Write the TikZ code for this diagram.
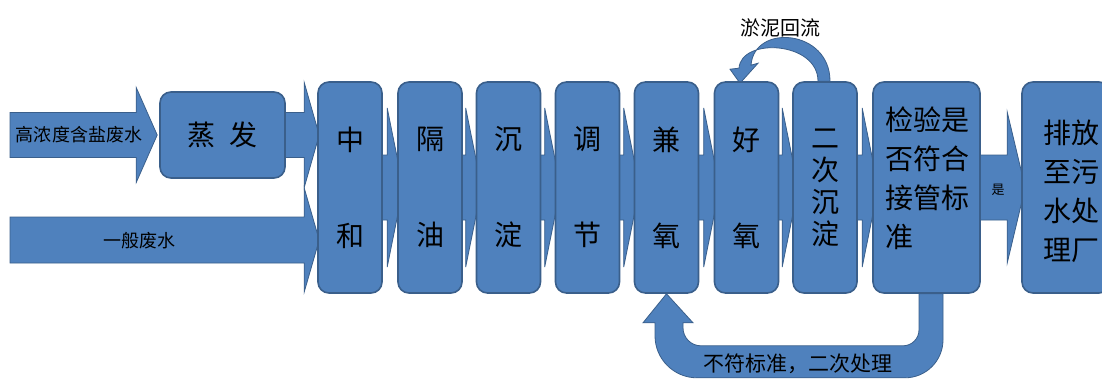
\documentclass[tikz,border=0pt]{standalone}
\usepackage{fontspec}
\newfontfamily\cjk{Noto Sans CJK SC}
\usetikzlibrary{calc,backgrounds}
\definecolor{blu}{HTML}{4F81BD}
\definecolor{bdr}{HTML}{3A5F8B}
\newcommand\boxarrow[2]{%
  \filldraw[blk] ($(#1.east)+(-4,-32.5)$) -- ($(#2.west)+(-10,-32.5)$) -- ($(#2.west)+(-10,-79.5)$) -- ($(#2.west)+(6,0)$) -- ($(#2.west)+(-10,79.5)$) -- ($(#2.west)+(-10,32.5)$) -- ($(#1.east)+(-4,32.5)$) -- cycle;}
\begin{document}
\begin{tikzpicture}[x=1pt,y=-1pt,
  proc/.style={draw=bdr, fill=blu, line width=1.6pt, rounded corners=11pt, minimum width=64pt, minimum height=211pt, inner sep=0pt, align=center, font=\cjk\fontsize{28}{96}\selectfont},
  txt/.style={inner sep=0pt, align=left, font=\cjk\fontsize{28}{39}\selectfont},
  blk/.style={fill=blu, draw=bdr, line width=0.8pt},
  lbl/.style={inner sep=0pt, font=\cjk\fontsize{18}{20}\selectfont}]
\useasboundingbox (0,0) rectangle (1102,378);
% boxes
\node[proc, minimum width=125pt, minimum height=86pt] (zf) at (222.5,135) {蒸\hspace{0.5em}发};
\node[proc] (zh) at (350,187.5) {中\\和};
\node[proc] (gy) at (430,187.5) {隔\\油};
\node[proc] (cd) at (508.5,187.5) {沉\\淀};
\node[proc] (tj) at (587.5,187.5) {调\\节};
\node[proc] (zy) at (666.5,187.5) {兼\\氧};
\node[proc] (hy) at (746.5,187.5) {好\\氧};
\node[proc, font=\cjk\fontsize{28}{32}\selectfont] (ech) at (825,187.5) {二\\次\\沉\\淀};
\node[proc, minimum width=107pt] (jy) at (926.5,187.5) {};
\node[proc, minimum width=88pt] (pf) at (1066,187.5) {};
\node[txt, anchor=north west] (jyt) at (885,107) {检验是\\否符合\\接管标\\准};
\node[txt, anchor=north west] (pft) at (1043,120) {排放\\至污\\水处\\理厂};
\coordinate (in1) at (10,135);
\coordinate (in2) at (10,240);
\begin{scope}[on background layer]
\fill[white] (0,0) rectangle (1102,378);
% input arrows
\filldraw[blk] ($(in1)+(0,-22.5)$) -- ($(in1 -| zf.west)+(-23,-22.5)$) -- ($(in1 -| zf.west)+(-23,-47.5)$) -- ($(in1 -| zf.west)+(-2,0)$) -- ($(in1 -| zf.west)+(-23,47.5)$) -- ($(in1 -| zf.west)+(-23,22.5)$) -- ($(in1)+(0,22.5)$) -- cycle;
\filldraw[blk] ($(in2)+(0,-23)$) -- ($(in2 -| zh.west)+(-13,-23)$) -- ($(in2 -| zh.west)+(-13,-52)$) -- ($(in2 -| zh.west)+(2,0)$) -- ($(in2 -| zh.west)+(-13,52)$) -- ($(in2 -| zh.west)+(-13,23)$) -- ($(in2)+(0,23)$) -- cycle;
\filldraw[blk] ($(zf.east)+(-4,-22.5)$) -- ($(zf.east -| zh.west)+(-13,-22.5)$) -- ($(zf.east -| zh.west)+(-13,-52.5)$) -- ($(zf.east -| zh.west)+(2,0)$) -- ($(zf.east -| zh.west)+(-13,52.5)$) -- ($(zf.east -| zh.west)+(-13,22.5)$) -- ($(zf.east)+(-4,22.5)$) -- cycle;
% process arrows
\boxarrow{zh}{gy}
\boxarrow{gy}{cd}
\boxarrow{cd}{tj}
\boxarrow{tj}{zy}
\boxarrow{zy}{hy}
\boxarrow{hy}{ech}
\boxarrow{ech}{jy}
\filldraw[blk] ($(jy.east)+(-4,-32.5)$) -- ($(pf.west)+(-14,-32.5)$) -- ($(pf.west)+(-14,-75.5)$) -- ($(pf.west)+(4,0)$) -- ($(pf.west)+(-14,75.5)$) -- ($(pf.west)+(-14,32.5)$) -- ($(jy.east)+(-4,32.5)$) -- cycle;
% return arrow
\filldraw[blk] ($(jy.south)+(16.5,0)$) -- ($(jy.south)+(16.5,46)$) arc[start angle=0,end angle=90,radius=38]
  -- ($(zy.south)+(30.5,84)$) arc[start angle=90,end angle=180,radius=42]
  -- ($(zy.south)+(-11.5,29)$) -- ($(zy.south)+(-23.5,29)$) -- (zy.south) -- ($(zy.south)+(26.5,29)$) -- ($(zy.south)+(16.5,29)$) -- ($(zy.south)+(16.5,34)$) arc[start angle=180,end angle=90,radius=18]
  -- ($(jy.south)+(-23.5,52)$) arc[start angle=90,end angle=0,radius=16]
  -- ($(jy.south)+(-7.5,0)$) -- cycle;
% sludge return
\filldraw[blk] ($(ech.north)+(5,0)$) .. controls ($(ech.north)+(5,-52)$) and ($(hy.north)+(7.5,-58)$) .. ($(hy.north)+(4.5,-16)$)
  -- ($(hy.north)+(11.5,-18)$) -- ($(hy.north)+(-6.5,2)$) -- ($(hy.north)+(-16.5,-12)$) -- ($(hy.north)+(-7.5,-13)$)
  .. controls ($(hy.north)+(-5.5,-44)$) and ($(ech.north)+(-7,-40)$) .. ($(ech.north)+(-7,0)$) -- cycle;
\end{scope}
% labels
\node[lbl] (l1) at (79,135) {高浓度含盐废水};
\node[lbl] (l2) at (139,241) {一般废水};
\node[lbl, font=\cjk\fontsize{20}{24}\selectfont] (l3) at (780,28) {淤泥回流};
\node[lbl, font=\cjk\fontsize{21}{24}\selectfont] (l4) at (798,364) {不符标准，二次处理};
\node[lbl, font=\cjk\fontsize{13}{14}\selectfont] (l5) at (998,190) {是};
\end{tikzpicture}
\end{document}
